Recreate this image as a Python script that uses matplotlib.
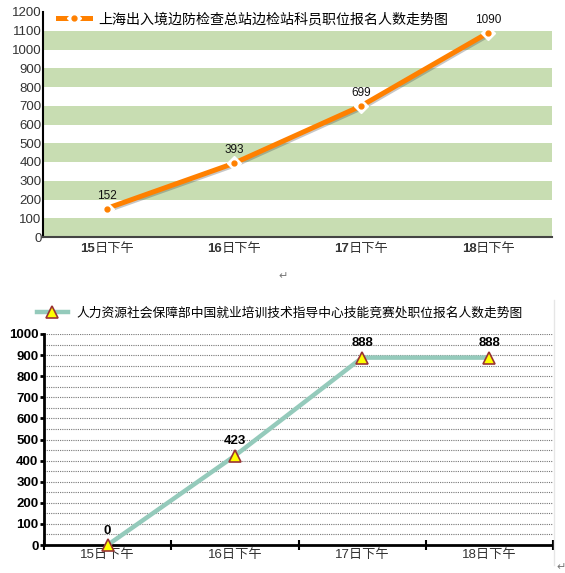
import matplotlib
matplotlib.use("Agg")
import matplotlib.pyplot as plt
import matplotlib.patheffects as pe
from matplotlib.lines import Line2D

plt.rcParams['font.family'] = ['Liberation Sans', 'Noto Sans CJK SC', 'DejaVu Sans']

# data
days = ["15", "16", "17", "18"]
day_suffix = "日下午"
top_values = [152, 393, 699, 1090]
top_title = "上海出入境边防检查总站边检站科员职位报名人数走势图"
bottom_values = [0, 423, 888, 888]
bottom_title = "人力资源社会保障部中国就业培训技术指导中心技能竞赛处职位报名人数走势图"

W, H = 565, 573
fig = plt.figure(figsize=(W / 100, H / 100), dpi=100)

def fig_box(left, top, right, bottom):
    return [left / W, 1 - bottom / H, (right - left) / W, (bottom - top) / H]

x = list(range(len(days)))

# ---------------- top chart ----------------
ax1 = fig.add_axes(fig_box(43, 12, 552, 237))
ax1.set_xlim(-0.5, 3.5)
ax1.set_ylim(0, 1200)
for lo in range(0, 1200, 200):
    ax1.axhspan(lo, lo + 100, color='#c8ddb2', lw=0, zorder=0)

orange = '#ff8000'
ax1.plot(x, top_values, color=orange, lw=3.6, solid_capstyle='round', zorder=3,
         path_effects=[pe.SimpleLineShadow(offset=(1, -1), shadow_color='#444444', alpha=0.3),
                       pe.Normal()])
ax1.plot(x, top_values, ls='none', marker='D', ms=7, mfc='white', mec='white', zorder=4)
ax1.plot(x, top_values, ls='none', marker='o', ms=3.5, mfc=orange, mec=orange, zorder=5)
for xi, v in zip(x, top_values):
    ax1.annotate(str(v), (xi, v), xytext=(0, 5), textcoords='offset points',
                 ha='center', va='bottom', fontsize=8.5, color='#111111', zorder=6)

ax1.set_yticks(range(0, 1201, 100))
ax1.tick_params(axis='y', length=0, pad=1, labelsize=9.5, labelcolor='#333333')
ax1.set_xticks(x)
ax1.set_xticklabels([])
ax1.tick_params(axis='x', length=0)
# x labels: bold digits followed by regular CJK text
fs = 9.5
shift = -0.9 * fs
for xi, d in zip(x, days):
    ax1.annotate(d, (xi, 0), xytext=(shift, -4), textcoords='offset points',
                 ha='right', va='top', fontsize=fs, fontweight='bold', color='#333333',
                 annotation_clip=False)
    ax1.annotate(day_suffix, (xi, 0), xytext=(shift - 0.3, -4), textcoords='offset points',
                 ha='left', va='top', fontsize=fs, color='#333333', annotation_clip=False)
for s in ['top', 'right']:
    ax1.spines[s].set_visible(False)
ax1.spines['left'].set_color('black')
ax1.spines['left'].set_linewidth(1.5)
ax1.spines['bottom'].set_color('#444444')
ax1.spines['bottom'].set_linewidth(1.5)

h1a = Line2D([], [], color=orange, lw=3.6)
h1b = Line2D([], [], ls='none', marker='D', ms=7, mfc='white', mec='white')
h1c = Line2D([], [], ls='none', marker='o', ms=3.5, mfc=orange, mec=orange)
fig.legend([(h1a, h1b, h1c)], [top_title], loc='center left',
           bbox_to_anchor=(58 / W, 1 - 19 / H), frameon=False, fontsize=10.1,
           handlelength=2.3, handletextpad=0.55, borderpad=0, borderaxespad=0)

# ---------------- bottom chart ----------------
ax2 = fig.add_axes(fig_box(44, 334, 553, 545))
ax2.set_xlim(-0.5, 3.5)
ax2.set_ylim(0, 1000)
teal = '#94cabb'
ax2.plot(x, bottom_values, color=teal, lw=3.2, zorder=3, clip_on=False)
ax2.plot(x, bottom_values, ls='none', marker='^', ms=9, mfc='#ffff00', mec='#993333',
         mew=1.2, zorder=4, clip_on=False)
for xi, v in zip(x, bottom_values):
    ax2.annotate(str(v), (xi, v), xytext=(0, 6), textcoords='offset points',
                 ha='center', va='bottom', fontsize=9.5, fontweight='bold', color='black', zorder=6)

ax2.set_yticks(range(0, 1001, 100))
ax2.set_yticks(range(50, 1000, 100), minor=True)
ax2.tick_params(axis='y', which='major', direction='out', length=3, width=2, pad=1,
                labelsize=9.5, labelcolor='black')
ax2.tick_params(axis='y', which='minor', length=0)
for lab in ax2.get_yticklabels():
    lab.set_fontweight('bold')
ax2.grid(axis='y', which='both', color='#777777', ls=(0, (1, 1)), lw=0.8)
ax2.set_axisbelow(True)

ax2.set_xticks([-0.5, 0.5, 1.5, 2.5, 3.5])
ax2.set_xticklabels([])
ax2.set_xticks(x, minor=True)
ax2.set_xticklabels([d + day_suffix for d in days], minor=True)
ax2.tick_params(axis='x', which='major', direction='inout', length=7, width=1.5)
ax2.tick_params(axis='x', which='minor', length=0, pad=3, labelsize=9.5, labelcolor='#333333')
for s in ['top', 'right']:
    ax2.spines[s].set_visible(False)
ax2.spines['left'].set_linewidth(2)
ax2.spines['bottom'].set_linewidth(2)

h2a = Line2D([], [], color=teal, lw=3.2)
h2b = Line2D([], [], ls='none', marker='^', ms=9, mfc='#ffff00', mec='#993333', mew=1.2)
fig.legend([(h2a, h2b)], [bottom_title], loc='center left',
           bbox_to_anchor=(37 / W, 1 - 313 / H), frameon=False, fontsize=9.2,
           handlelength=2.4, handletextpad=0.7, borderpad=0, borderaxespad=0)

# faint frame line at the right of the lower chart
fig.add_artist(Line2D([554 / W, 554 / W], [1 - 300 / H, 1 - 565 / H], color='#e6e6e6', lw=1))
# paragraph marks
fig.text(283 / W, 1 - 276 / H, "↵", fontsize=8, color='#777777', ha='center', va='center',
         family='DejaVu Sans')
fig.text(561 / W, 1 - 567 / H, "↵", fontsize=8, color='#777777', ha='center', va='center',
         family='DejaVu Sans')

fig.savefig('out.png', dpi=100)
